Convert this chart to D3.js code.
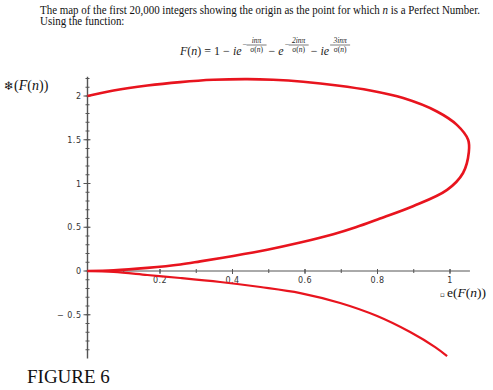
<!DOCTYPE html>
<html lang="en">
  <head>
    <meta charset="UTF-8" />
    <title>Figure 6</title>
    <style>
      body { margin: 0; background: #fff; }
      svg { display: block; }
      .serif { font-family: "Liberation Serif", "Times New Roman", serif; fill: #111; }
      .tick { font-family: "DejaVu Sans", sans-serif; font-size: 8px; fill: #333; letter-spacing: 0.5px; }
    </style>
  </head>
  <body>
    <script src="https://cdn.jsdelivr.net/npm/d3@7"></script>
    <script>
      // points: [Re F(n), Im F(n)]
      var loopPoints = [
        [0, 2.0], [0.072, 2.063], [0.165, 2.12], [0.256, 2.159], [0.347, 2.185],
        [0.441, 2.193], [0.512, 2.185], [0.595, 2.162], [0.689, 2.12], [0.78, 2.063],
        [0.871, 1.976], [0.964, 1.823], [1.019, 1.67], [1.05, 1.5], [1.052, 1.36],
        [1.036, 1.12], [0.992, 0.927], [0.898, 0.74], [0.807, 0.6], [0.74, 0.5],
        [0.678, 0.42], [0.587, 0.325], [0.496, 0.243], [0.402, 0.172], [0.311, 0.11],
        [0.256, 0.075], [0.165, 0.036], [0.072, 0.008], [0, 0]
      ];
      var lowerPoints = [
        [0, 0], [0.072, -0.011], [0.165, -0.046], [0.256, -0.08], [0.366, -0.126],
        [0.477, -0.183], [0.587, -0.252], [0.697, -0.366], [0.799, -0.515],
        [0.89, -0.698], [0.959, -0.87], [0.992, -0.973]
      ];
      var xTicks = [0.2, 0.4, 0.6, 0.8, 1];
      var xTickLabels = ["0.2", "0.4", "0.6", "0.8", "1"];
      var yTicks = [-0.5, 0, 0.5, 1, 1.5, 2];
      var yTickLabels = ["\u2212 0.5", "0", "0.5", "1", "1.5", "2"];

      var svg = d3.select("body").append("svg").attr("width", 493).attr("height", 390);

      var x = d3.scaleLinear().domain([0, 1]).range([87.5, 450]);
      var y = d3.scaleLinear().domain([0, 2]).range([271, 96]);

      // header text, squeezed sideways to the width it has in the picture
      var head = svg.append("g").attr("class", "serif").style("font-size", "11.5px");
      var h1 = head.append("g");
      var t1 = h1.append("text").attr("x", 0).attr("y", 0)
        .html("The map of the first 20,000 integers showing the origin as the point for which <tspan font-style=\"italic\">n</tspan> is a Perfect Number.");
      var sx = 440 / t1.node().getComputedTextLength();
      h1.attr("transform", "translate(40,14) scale(" + sx + ",1)");
      head.append("g").attr("transform", "translate(40,25) scale(" + sx + ",1)")
        .append("text").text("Using the function:");

      // formula
      var fx = 180, fy = 55;
      var f = svg.append("g").attr("class", "serif").style("fill", "#222");
      function piece(x0, parts) {
        var t = f.append("text").attr("x", x0).attr("y", fy).style("font-size", "12px");
        parts.forEach(function (p) {
          t.append("tspan").style("font-style", p[1] ? "italic" : "normal").text(p[0]);
        });
        return x0 + t.node().getComputedTextLength();
      }
      function expo(x0, sign, num) {
        var g = f.append("g").style("font-size", "7.5px");
        var off = 1;
        if (sign) {
          g.append("text").attr("x", x0 + 1).attr("y", fy - 8).text("\u2212");
          off = 5;
        }
        g.append("text").attr("x", x0 + off + 10).attr("y", fy - 12)
          .attr("text-anchor", "middle").style("font-style", "italic").text(num);
        g.append("line").attr("x1", x0 + off).attr("x2", x0 + off + 20)
          .attr("y1", fy - 10).attr("y2", fy - 10).attr("stroke", "#222").attr("stroke-width", 0.6);
        var den = g.append("text").attr("x", x0 + off + 10).attr("y", fy - 3.5)
          .attr("text-anchor", "middle");
        den.append("tspan").text("\u03c3(");
        den.append("tspan").style("font-style", "italic").text("n");
        den.append("tspan").text(")");
        return x0 + off + 21;
      }
      var p1 = piece(fx, [["F", 1], ["(", 0], ["n", 1], [") = 1 \u2212 ", 0], ["ie", 1]]);
      var e1 = expo(p1, true, "in\u03c0");
      var p2 = piece(e1 + 1, [["\u2212 ", 0], ["e", 1]]);
      var e2 = expo(p2, true, "2in\u03c0");
      var p3 = piece(e2 + 1, [["\u2212 ", 0], ["ie", 1]]);
      expo(p3, false, "3in\u03c0");

      // axes
      var ax = svg.append("g").attr("stroke", "#555").attr("stroke-width", 1);
      ax.append("line").attr("x1", x(0)).attr("x2", x(0)).attr("y1", y(2.22)).attr("y2", y(-1)).attr("stroke-width", 1.4);
      ax.append("line").attr("x1", x(0)).attr("x2", x(1.055)).attr("y1", y(0)).attr("y2", y(0));

      var yMinor = d3.range(-9, 23).map(function (d) { return d / 10; });
      ax.selectAll(".ym").data(yMinor).enter().append("line")
        .attr("x1", x(0) - 2).attr("x2", x(0) + 2)
        .attr("y1", function (d) { return y(d); }).attr("y2", function (d) { return y(d); });
      ax.selectAll(".yM").data(yTicks).enter().append("line")
        .attr("x1", x(0) - 4).attr("x2", x(0) + 3)
        .attr("y1", function (d) { return y(d); }).attr("y2", function (d) { return y(d); });

      var xMinor = d3.range(1, 11).map(function (d) { return d / 10; });
      ax.selectAll(".xm").data(xMinor).enter().append("line")
        .attr("x1", function (d) { return x(d); }).attr("x2", function (d) { return x(d); })
        .attr("y1", y(0) - 2).attr("y2", y(0) + 2);
      ax.selectAll(".xM").data(xTicks).enter().append("line")
        .attr("x1", function (d) { return x(d); }).attr("x2", function (d) { return x(d); })
        .attr("y1", y(0) - 2).attr("y2", y(0) + 3);

      svg.selectAll(".yl").data(yTicks).enter().append("text").attr("class", "tick")
        .attr("x", x(0) - 6).attr("y", function (d) { return y(d) + 3; })
        .attr("text-anchor", "end")
        .text(function (d, i) { return yTickLabels[i]; });
      svg.selectAll(".xl").data(xTicks).enter().append("text").attr("class", "tick")
        .attr("x", function (d) { return x(d); }).attr("y", y(0) + 12)
        .attr("text-anchor", "middle")
        .text(function (d, i) { return xTickLabels[i]; });

      // axis labels
      var yl = svg.append("text").attr("class", "serif").attr("x", 4).attr("y", 90).style("font-size", "14px");
      yl.append("tspan").style("font-family", "'DejaVu Sans', sans-serif").style("font-size", "12px").text("\u2744");
      yl.append("tspan").text("(");
      yl.append("tspan").style("font-style", "italic").text("F");
      yl.append("tspan").text("(");
      yl.append("tspan").style("font-style", "italic").text("n");
      yl.append("tspan").text("))");

      var xl = svg.append("text").attr("class", "serif").attr("x", 440).attr("y", 297).style("font-size", "13.5px");
      xl.append("tspan").style("font-family", "'DejaVu Sans', sans-serif").style("font-size", "7px").text("\u25ab ");
      xl.append("tspan").text("e(");
      xl.append("tspan").style("font-style", "italic").text("F");
      xl.append("tspan").text("(");
      xl.append("tspan").style("font-style", "italic").text("n");
      xl.append("tspan").text("))");

      // curves
      var line = d3.line()
        .x(function (d) { return x(d[0]); })
        .y(function (d) { return y(d[1]); })
        .curve(d3.curveCatmullRom);
      svg.append("path").datum(loopPoints).attr("d", line)
        .attr("fill", "none").attr("stroke", "#e8141e").attr("stroke-width", 2.6);
      svg.append("path").datum(lowerPoints).attr("d", line)
        .attr("fill", "none").attr("stroke", "#e8141e").attr("stroke-width", 2.2);

      svg.append("text").attr("class", "serif").attr("x", 27).attr("y", 383)
        .style("font-size", "19px").text("FIGURE 6");
    </script>
  </body>
</html>
